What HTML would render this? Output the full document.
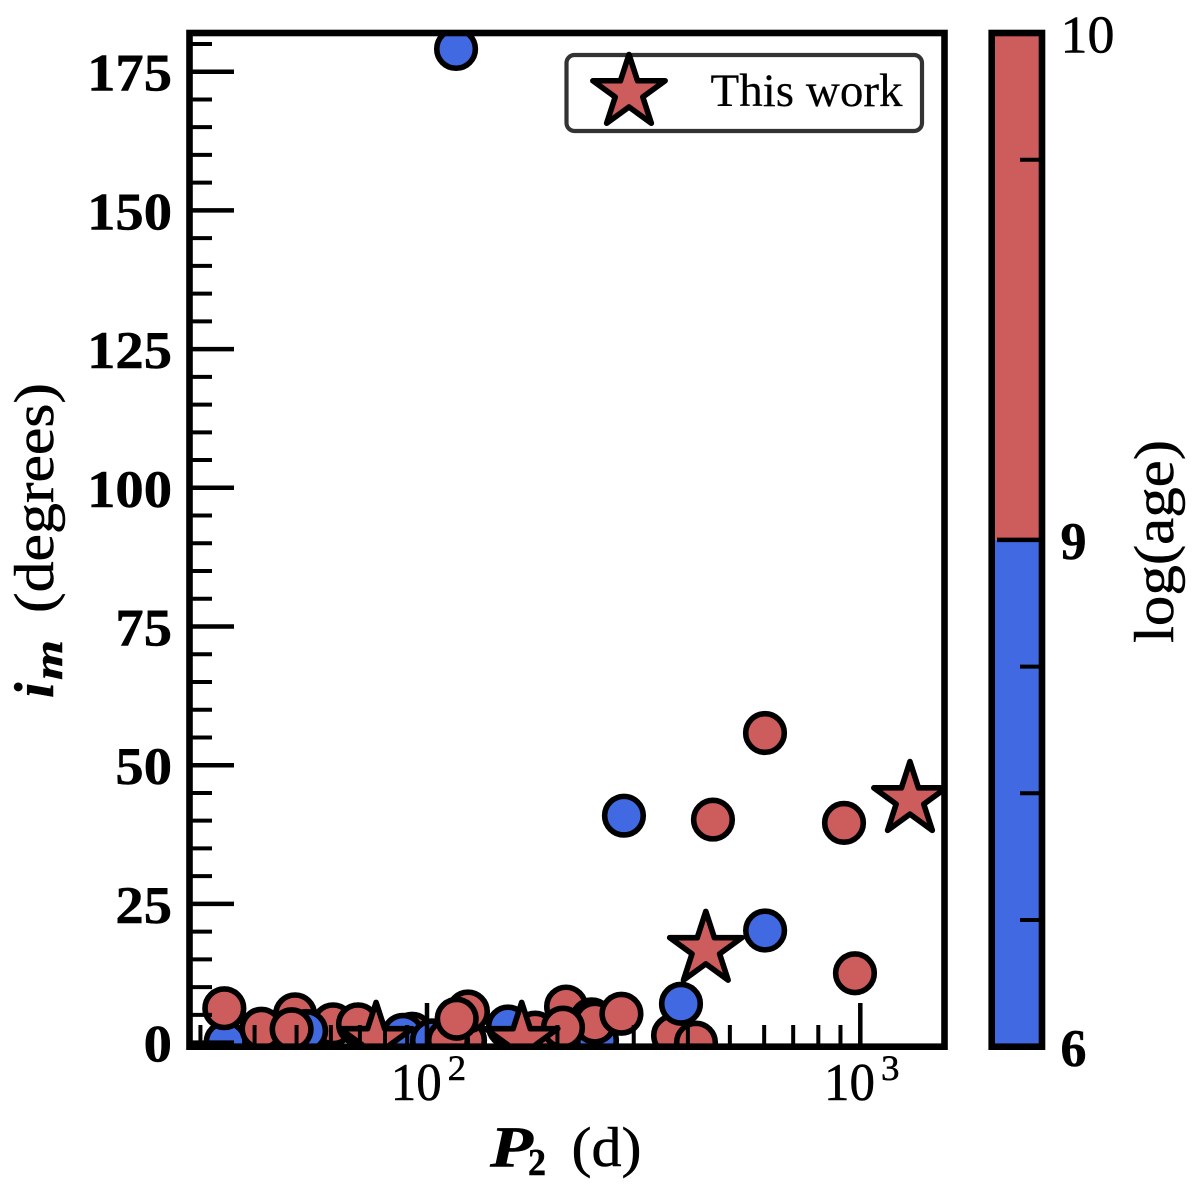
<!DOCTYPE html>
<html lang="en">
<head>
<meta charset="utf-8">
<title>Mutual inclination vs outer period</title>
<style>
html,body{margin:0;padding:0;background:#fff;}
svg{display:block;}
text{font-family:"Liberation Serif",serif;fill:#000;stroke:#000;stroke-width:0.5px;}
</style>
</head>
<body>
<svg id="chart" xmlns="http://www.w3.org/2000/svg" width="1200" height="1192" viewBox="0 0 1200 1192">
  <defs>
    <clipPath id="plot-clip"><rect x="189.5" y="33" width="755" height="1013.7"></rect></clipPath>
  </defs>
  <rect x="0" y="0" width="1200" height="1192" fill="#fff"></rect>
  <g id="marks" clip-path="url(#plot-clip)"></g>
  <g id="axis-ticks"></g>
  <rect x="189.5" y="33" width="755" height="1013.7" fill="none" stroke="#000" stroke-width="6.6"></rect>

  <g>
    <rect x="566.5" y="55" width="355.5" height="76" rx="8" ry="8" fill="#fff" stroke="#333" stroke-width="4.2"></rect>
    <g id="legend-symbol"></g>
    <text x="710.5" y="106" font-size="47" textLength="192" lengthAdjust="spacingAndGlyphs" style="stroke-width:0.2px">This work</text>
  </g>

  <text transform="translate(53,698) rotate(-90)" font-size="56" font-weight="bold" font-style="italic">i</text>
  <text transform="translate(62,680) rotate(-90)" font-size="40" font-weight="bold" font-style="italic" textLength="40" lengthAdjust="spacingAndGlyphs">m</text>
  <text transform="translate(53,613) rotate(-90)" font-size="56" textLength="230" lengthAdjust="spacingAndGlyphs">(degrees)</text>

  <text x="490" y="1166.5" font-size="58" font-weight="bold" font-style="italic" textLength="43" lengthAdjust="spacingAndGlyphs">P</text>
  <text x="528" y="1175" font-size="38" font-weight="bold" textLength="18" lengthAdjust="spacingAndGlyphs">2</text>
  <text x="571.5" y="1166" font-size="56" textLength="70" lengthAdjust="spacingAndGlyphs">(d)</text>

  <g id="colorbar-fill"></g>
  <g id="colorbar-ticks"></g>
  <rect x="991.7" y="33" width="50.3" height="1013.7" fill="none" stroke="#000" stroke-width="6.6"></rect>
  <text transform="translate(1173,643) rotate(-90)" font-size="56" textLength="203" lengthAdjust="spacingAndGlyphs">log(age)</text>
</svg>

<script>
// Circles, in drawing order (later ones sit on top)
const periods = [34.3, 34.06, 41.5, 60.7, 49.6, 52.6, 48.7, 69.3, 92.4, 88, 102.7, 122.4, 111.8, 124.3, 117.1, 153.8, 177.6, 246.8, 209.4, 240, 244, 281, 206, 369.7, 385.6, 417.6, 972, 603, 284.8, 457, 917, 602.6, 116.7];
const inclinations = [0.1, 6.2, 2.5, 3.3, 5.1, 2.1, 2.4, 3.3, 1.6, 1.4, 0.4, 0.4, 0.4, 5.6, 4.3, 2.9, 1.8, 0.4, 6.5, 4.2, 3.6, 5.2, 2.7, 1.3, 7, 0, 12.5, 20.2, 40.9, 40.2, 39.6, 55.8, 179.1];
const logAges = [8, 9.5, 9.5, 9.5, 9.5, 8, 9.5, 9.5, 9.5, 8, 8, 9.5, 9.5, 9.5, 9.5, 8, 9.5, 8, 9.5, 9.5, 9.5, 9.5, 9.5, 9.5, 8, 9.5, 9.5, 8, 8, 9.5, 9.5, 9.5, 8];

// "This work" stars
const starPeriods = [76.3, 165.4, 440, 1302];
const starInclinations = [0.4, 0.4, 16.8, 43.8];
const starLogAges = [9.5, 9.5, 9.5, 9.5];

// Axis ticks
const yMajorTicks = [0, 25, 50, 75, 100, 125, 150, 175];
const yMinorTicks = [5, 10, 15, 20, 30, 35, 40, 45, 55, 60, 65, 70, 80, 85, 90, 95, 105, 110, 115, 120, 130, 135, 140, 145, 155, 160, 165, 170, 180];
const xMajorTicks = [100, 1000];
const xMajorExponents = ["2", "3"];
const xMinorTicks = [30, 40, 50, 60, 70, 80, 90, 200, 300, 400, 500, 600, 700, 800, 900];

// Colorbar
const colorBounds = [6, 9, 10];
const colorNames = ["#4169E1", "#CD5C5C"];
const colorbarMajorTicks = [6, 9, 10];
const colorbarMinorTicks = [6.75, 7.5, 8.25, 9.75];

const NS = "http://www.w3.org/2000/svg";
function make(tag, attrs, parent) {
  const el = document.createElementNS(NS, tag);
  for (const k in attrs) el.setAttribute(k, attrs[k]);
  parent.appendChild(el);
  return el;
}
function xScale(p) { return 427 + 433.3 * Math.log10(p / 100); }
function yScale(v) { return 1042.6 - 5.548 * v; }
function colorbarScale(a) {
  const n = colorBounds.length - 1;
  let i = 0;
  while (i < n - 1 && a > colorBounds[i + 1]) i++;
  const f = (a - colorBounds[i]) / (colorBounds[i + 1] - colorBounds[i]);
  return 1046.7 - (i + f) * (1013.7 / n);
}
function colorFor(a) {
  for (let i = 0; i < colorNames.length; i++) {
    if (a <= colorBounds[i + 1]) return colorNames[i];
  }
  return colorNames[colorNames.length - 1];
}
function starPoints(cx, cy, R) {
  const pts = [];
  const r = R * 0.381966;
  for (let i = 0; i < 10; i++) {
    const ang = -Math.PI / 2 + i * Math.PI / 5;
    const rad = i % 2 === 0 ? R : r;
    pts.push((cx + rad * Math.cos(ang)).toFixed(2) + "," + (cy + rad * Math.sin(ang)).toFixed(2));
  }
  return pts.join(" ");
}

const marks = document.getElementById("marks");
periods.forEach(function (p, i) {
  const c = make("circle", {cx: xScale(p), cy: yScale(inclinations[i]), r: 19.3, fill: colorFor(logAges[i]), stroke: "#000", "stroke-width": 5.6}, marks);
  
  
});
starPeriods.forEach(function (p, i) {
  const s = make("polygon", {points: starPoints(xScale(p), yScale(starInclinations[i]), 38), fill: colorFor(starLogAges[i]), stroke: "#000", "stroke-width": 5.6, "stroke-linejoin": "round"}, marks);
  
  
});

const legendSymbol = document.getElementById("legend-symbol");
const legendStar = make("polygon", {points: starPoints(629, 92.5, 38), fill: colorNames[1], stroke: "#000", "stroke-width": 5.6, "stroke-linejoin": "round"}, legendSymbol);



const axisTicks = document.getElementById("axis-ticks");
yMajorTicks.forEach(function (v) {
  const y = yScale(v);
  const t = make("line", {x1: 189.5, x2: 234, y1: y, y2: y, stroke: "#000", "stroke-width": 4.5}, axisTicks);
  
  
  const label = String(v);
  const l = make("text", {x: 172, y: y + 19, "font-size": 53, "font-weight": "bold", "text-anchor": "end", textLength: label.length * 28.3, lengthAdjust: "spacingAndGlyphs"}, axisTicks);
  l.textContent = label;
  
  
});
yMinorTicks.forEach(function (v) {
  const y = yScale(v);
  const t = make("line", {x1: 189.5, x2: 212, y1: y, y2: y, stroke: "#000", "stroke-width": 4}, axisTicks);
  
  
});
xMajorTicks.forEach(function (p, i) {
  const x = xScale(p);
  const t = make("line", {x1: x, x2: x, y1: 1046.7, y2: 1003, stroke: "#000", "stroke-width": 4.5}, axisTicks);
  
  
  const l = make("text", {x: x - 36.3, y: 1100, "font-size": 53, textLength: 51, lengthAdjust: "spacingAndGlyphs"}, axisTicks);
  l.textContent = "10";
  
  
  const e = make("text", {x: x + 20.7, y: 1080, "font-size": 36, textLength: 18.5, lengthAdjust: "spacingAndGlyphs"}, axisTicks);
  e.textContent = xMajorExponents[i];
  
  
});
xMinorTicks.forEach(function (p) {
  const x = xScale(p);
  const t = make("line", {x1: x, x2: x, y1: 1046.7, y2: 1025, stroke: "#000", "stroke-width": 4}, axisTicks);
  
  
});

const cbFill = document.getElementById("colorbar-fill");
colorNames.forEach(function (c, i) {
  const yTop = colorbarScale(colorBounds[i + 1]);
  const yBot = colorbarScale(colorBounds[i]);
  const r = make("rect", {x: 991.7, y: yTop, width: 50.3, height: yBot - yTop, fill: c}, cbFill);
  
  
});
const cbTicks = document.getElementById("colorbar-ticks");
const colorbarBaselineOffset = [19.5, 19, 19.5];
colorbarMajorTicks.forEach(function (a, i) {
  const y = colorbarScale(a);
  if (a !== colorBounds[0] && a !== colorBounds[colorBounds.length - 1]) {
    const t = make("line", {x1: 997, x2: 1042, y1: y, y2: y, stroke: "#000", "stroke-width": 4.5}, cbTicks);
    
    
  }
  const label = String(a);
  const l = make("text", {x: 1060.5, y: y + colorbarBaselineOffset[i], "font-size": 53, "font-weight": label.length > 1 ? "normal" : "bold", textLength: label.length > 1 ? 54 : 26, lengthAdjust: "spacingAndGlyphs"}, cbTicks);
  l.textContent = label;
  
  
});
colorbarMinorTicks.forEach(function (a) {
  const y = colorbarScale(a);
  const t = make("line", {x1: 1020, x2: 1042, y1: y, y2: y, stroke: "#000", "stroke-width": 4}, cbTicks);
  
  
});
</script>
</body>
</html>
